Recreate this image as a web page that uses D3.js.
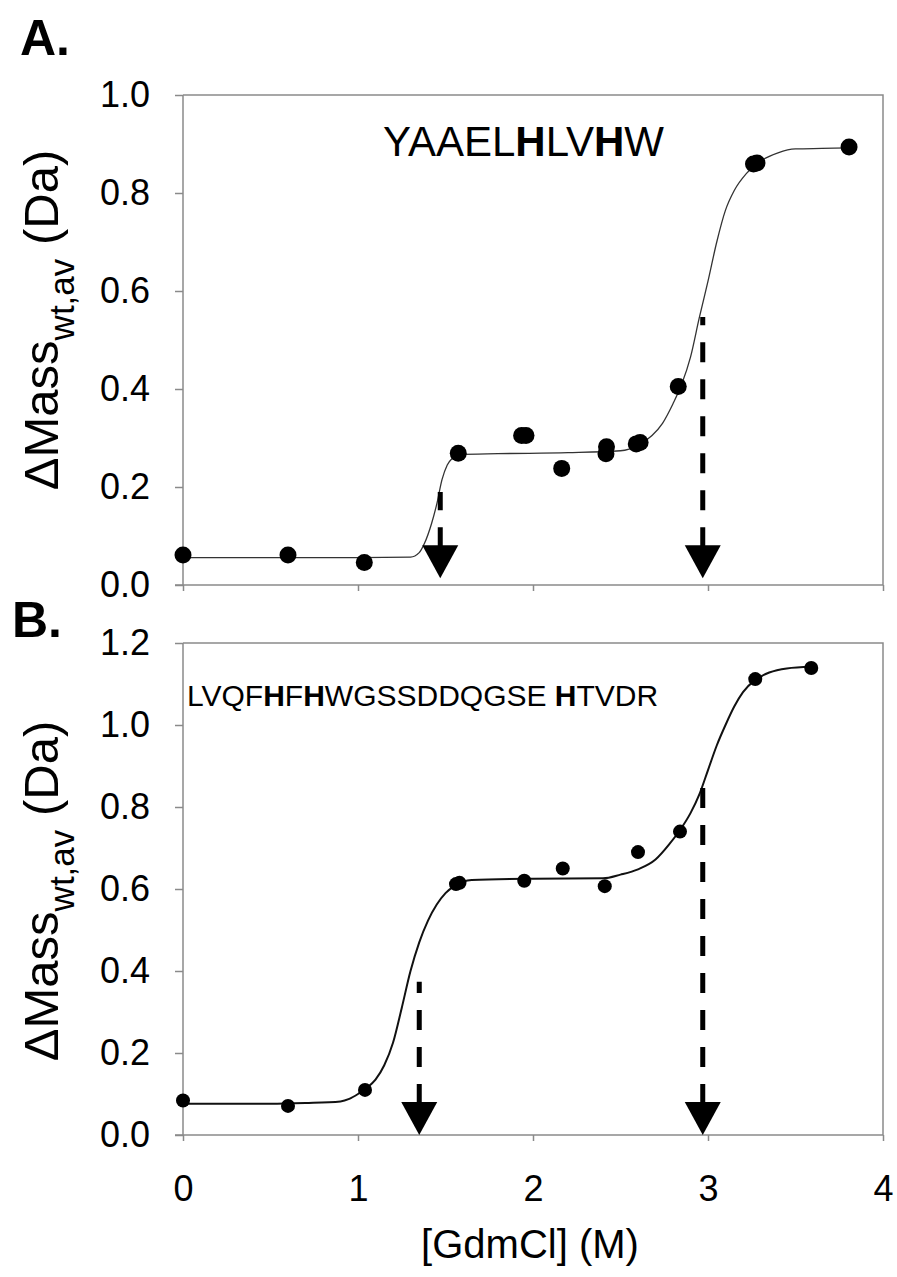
<!DOCTYPE html>
<html lang="en">
<head>
    <meta charset="UTF-8">
    <title>GdmCl titration</title>
    <script src="https://d3js.org/d3.v7.min.js"></script>
    <style>
        body { margin: 0; background: #fff; }
        text { font-family: "Liberation Sans", Arial, sans-serif; fill: #000; }
        .axis path, .axis line { stroke: #8a8a8a; stroke-width: 1.5; }
        .axis text { font-size: 36px; }
    </style>
</head>
<body>

<div id="chart"></div>

<script>

// ---- data ----
// panel A : YAAELHLVHW
var gdmA    = [0, 0.6, 1.036, 1.573, 1.935, 1.96, 2.164, 2.417, 2.42, 2.59, 2.612, 2.83, 3.26, 3.28, 3.806];
var massA   = [0.061, 0.061, 0.046, 0.269, 0.305, 0.305, 0.238, 0.268, 0.282, 0.288, 0.291, 0.405, 0.859, 0.861, 0.894];

var fitXA   = [0, 0.5, 1.0, 1.3, 1.35, 1.38, 1.42, 1.45, 1.48, 1.51, 1.54, 1.57, 1.8, 2.2, 2.5, 2.6, 2.68, 2.74, 2.8, 2.85, 2.9, 2.95, 3.0, 3.05, 3.1, 3.15, 3.22, 3.3, 3.4, 3.5, 3.65, 3.81];
var fitYA   = [0.056, 0.056, 0.056, 0.057, 0.066, 0.085, 0.125, 0.165, 0.215, 0.245, 0.259, 0.266, 0.268, 0.27, 0.274, 0.285, 0.305, 0.33, 0.37, 0.41, 0.465, 0.545, 0.62, 0.70, 0.765, 0.805, 0.84, 0.865, 0.882, 0.89, 0.891, 0.892];

var arrowXA   = [1.47, 2.97];
var arrowTopA = [0.19, 0.547];
var arrowTipA = [0.014, 0.014];

// panel B : LVQFHFHWGSSDDQGSEHTVDR
var gdmB    = [0, 0.6, 1.04, 1.56, 1.58, 1.95, 2.17, 2.41, 2.6, 2.84, 3.27, 3.59];
var massB   = [0.084, 0.071, 0.11, 0.612, 0.615, 0.62, 0.65, 0.607, 0.69, 0.74, 1.112, 1.139];

var fitXB   = [0, 0.5, 0.7, 0.9, 0.95, 1.0, 1.05, 1.1, 1.15, 1.2, 1.25, 1.3, 1.35, 1.4, 1.45, 1.5, 1.55, 1.65, 2.0, 2.4, 2.5, 2.6, 2.7, 2.78, 2.85, 2.9, 2.95, 3.0, 3.05, 3.1, 3.15, 3.2, 3.27, 3.35, 3.45, 3.59];
var fitYB   = [0.076, 0.076, 0.078, 0.082, 0.088, 0.1, 0.115, 0.135, 0.17, 0.225, 0.31, 0.40, 0.47, 0.523, 0.562, 0.59, 0.607, 0.622, 0.625, 0.626, 0.635, 0.648, 0.672, 0.71, 0.75, 0.785, 0.83, 0.89, 0.95, 1.0, 1.045, 1.08, 1.11, 1.128, 1.138, 1.142];

var arrowXB   = [1.35, 2.97];
var arrowTopB = [0.374, 0.854];
var arrowTipB = [0, 0];

var xTicks = [0, 1, 2, 3, 4];

// ---- svg ----
var width = 897, height = 1277;

var svg = d3.select("#chart")
  .append("svg")
    .attr("width", width)
    .attr("height", height);

var x = d3.scaleLinear().domain([0, 4]).range([183, 883]);

function zip(a, b) { return a.map(function(d, i) { return [d, b[i]]; }); }

function drawPanel(opt) {
  var y = d3.scaleLinear().domain([0, opt.ymax]).range([opt.bottom, opt.top]);

  // frame (top + right)
  svg.append("path")
    .attr("d", "M" + x(0) + "," + y(opt.ymax) + "H" + x(4) + "V" + y(0))
    .attr("fill", "none")
    .attr("stroke", "#8a8a8a")
    .attr("stroke-width", 1.5);

  // y axis
  svg.append("g")
    .attr("class", "axis")
    .attr("transform", "translate(" + x(0) + ",0)")
    .call(d3.axisLeft(y).tickValues(opt.yTicks).tickSize(8).tickPadding(25).tickFormat(d3.format(".1f")))
    .call(function(g) { g.select(".domain").attr("d", "M0," + y(0) + "V" + y(opt.ymax)); });

  // x axis
  svg.append("g")
    .attr("class", "axis")
    .attr("transform", "translate(0," + y(0) + ")")
    .call(d3.axisBottom(x).tickValues(xTicks).tickSize(6).tickPadding(34)
      .tickFormat(opt.xLabels ? d3.format("d") : function() { return ""; }))
    .call(function(g) { g.select(".domain").attr("d", "M" + (x(0) - 8) + ",0H" + x(4)); });

  // fitted curve
  var line = d3.line()
    .x(function(d) { return x(d[0]); })
    .y(function(d) { return y(d[1]); })
    .curve(d3.curveMonotoneX);

  svg.append("path")
    .datum(zip(opt.fitX, opt.fitY))
    .attr("d", line)
    .attr("fill", "none")
    .attr("stroke", opt.lineColor)
    .attr("stroke-width", opt.lineWidth);

  // data points
  svg.selectAll(null)
    .data(zip(opt.px, opt.py))
    .enter().append("circle")
    .attr("cx", function(d) { return x(d[0]); })
    .attr("cy", function(d) { return y(d[1]); })
    .attr("r", opt.r)
    .attr("fill", "#000");

  // dashed arrows (midpoints)
  opt.arrowX.forEach(function(ax, i) {
    var tip = y(opt.arrowTip[i]);
    var head = 33;
    svg.append("line")
      .attr("x1", x(ax)).attr("x2", x(ax))
      .attr("y1", tip - head + 2).attr("y2", y(opt.arrowTop[i]))
      .attr("stroke", "#000")
      .attr("stroke-width", 5)
      .attr("stroke-dasharray", "20,17");
    svg.append("path")
      .attr("d", "M" + (x(ax) - 18) + "," + (tip - head) + "L" + (x(ax) + 18) + "," + (tip - head) + "L" + x(ax) + "," + tip + "Z")
      .attr("fill", "#000");
  });

  // peptide sequence, histidines in bold
  var seq = svg.append("text")
    .attr("x", opt.seqX)
    .attr("y", opt.seqY)
    .style("font-size", opt.seqSize + "px");
  opt.seq.forEach(function(s) {
    seq.append("tspan")
      .style("font-weight", s.b ? "bold" : "normal")
      .text(s.t);
  });

  // panel letter
  svg.append("text")
    .attr("x", opt.letterX)
    .attr("y", opt.letterY)
    .style("font-size", "50px")
    .style("font-weight", "bold")
    .text(opt.letter);

  // y title
  var yt = svg.append("text")
    .attr("transform", "translate(58," + opt.titleY + ") rotate(-90)")
    .attr("text-anchor", "middle")
    .style("font-size", "49px");
  yt.append("tspan").text("\u0394Mass");
  yt.append("tspan").attr("dy", 16).style("font-size", "35px").text("wt,av");
  yt.append("tspan").attr("dy", -16).text(" (Da)");
}

drawPanel({
  top: 95, bottom: 585, ymax: 1.0, yTicks: [0, 0.2, 0.4, 0.6, 0.8, 1.0],
  xLabels: false,
  fitX: fitXA, fitY: fitYA, lineColor: "#333", lineWidth: 1.3,
  px: gdmA, py: massA, r: 8.5,
  arrowX: arrowXA, arrowTop: arrowTopA, arrowTip: arrowTipA,
  seq: [{t: "YAAEL"}, {t: "H", b: true}, {t: "LV"}, {t: "H", b: true}, {t: "W"}],
  seqX: 383, seqY: 156, seqSize: 42,
  letter: "A.", letterX: 20, letterY: 55, titleY: 320
});

drawPanel({
  top: 643, bottom: 1135, ymax: 1.2, yTicks: [0, 0.2, 0.4, 0.6, 0.8, 1.0, 1.2],
  xLabels: true,
  fitX: fitXB, fitY: fitYB, lineColor: "#111", lineWidth: 2,
  px: gdmB, py: massB, r: 7,
  arrowX: arrowXB, arrowTop: arrowTopB, arrowTip: arrowTipB,
  seq: [{t: "LVQF"}, {t: "H", b: true}, {t: "F"}, {t: "H", b: true}, {t: "WGSSDDQGSE "}, {t: "H", b: true}, {t: "TVDR"}],
  seqX: 187, seqY: 706, seqSize: 30,
  letter: "B.", letterX: 12, letterY: 637, titleY: 891
});

// x title
svg.append("text")
  .attr("x", 530)
  .attr("y", 1258)
  .attr("text-anchor", "middle")
  .style("font-size", "40px")
  .text("[GdmCl] (M)");

</script>
</body>
</html>
